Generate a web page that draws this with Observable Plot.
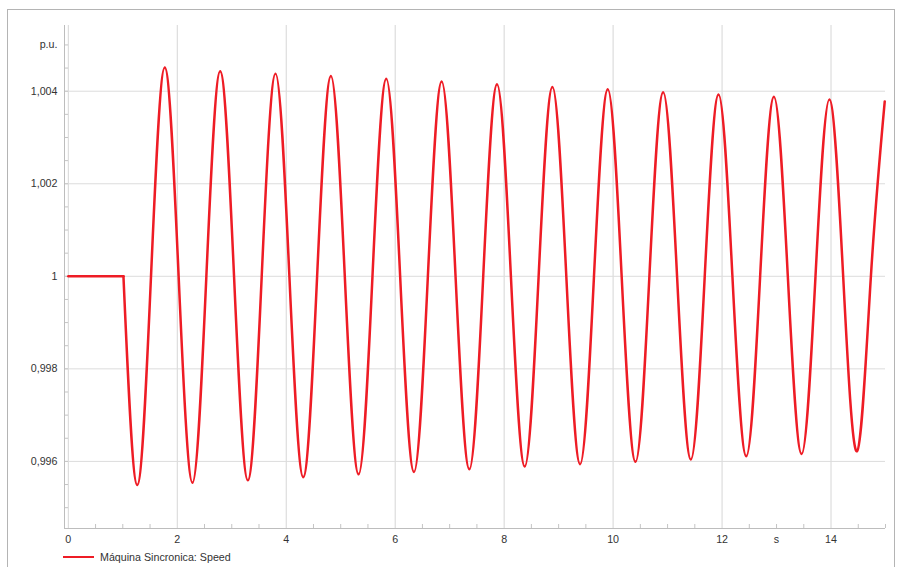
<!DOCTYPE html>
<html>
<head>
<meta charset="utf-8">
<script src="https://cdn.jsdelivr.net/npm/d3@7"></script>
<script src="https://cdn.jsdelivr.net/npm/@observablehq/plot@0.6"></script>
<style>
  body { margin: 0; background: #fff; font-family: "Liberation Sans", Arial, sans-serif; }
  #wrap { position: relative; width: 898px; height: 567px; overflow: hidden; background: #fff; }
  #frame { position: absolute; left: 7px; top: 9px; width: 888px; height: 600px; border: 1px solid #b4b4b4; box-sizing: border-box; }
  #chart { position: absolute; left: 0; top: 0; }
  #legend { position: absolute; left: 63px; top: 549px; height: 16px; display: flex; align-items: center; font-size: 10.7px; color: #333; }
  #legend .sw { width: 31px; height: 2.5px; background: #ee1c25; margin-right: 6px; }
</style>
</head>
<body>
<div id="wrap">
  <div id="frame"></div>
  <div id="chart"></div>
  <div id="legend"><span class="sw"></span><span id="legtext"></span></div>
</div>
<script>
// ---- data ----
const seriesName = "Máquina Sincronica: Speed";
const flatT = [0, 1.012];
const flatV = [1, 1];
const oscT = [1.012,
  1.265, 1.518, 1.771, 2.025,
  2.280, 2.534, 2.788, 3.042,
  3.296, 3.550, 3.804, 4.058,
  4.313, 4.567, 4.821, 5.075,
  5.329, 5.583, 5.837, 6.091,
  6.346, 6.600, 6.854, 7.108,
  7.362, 7.616, 7.870, 8.124,
  8.379, 8.633, 8.887, 9.141,
  9.395, 9.649, 9.903, 10.157,
  10.412, 10.666, 10.920, 11.174,
  11.428, 11.682, 11.936, 12.190,
  12.445, 12.699, 12.953, 13.207,
  13.461, 13.715, 13.969, 14.223,
  14.478, 14.732, 14.986];
const oscV = [1,
  0.99549, 1, 1.00451, 1,
  0.99554, 1, 1.00443, 1,
  0.99559, 1, 1.00438, 1,
  0.99566, 1, 1.00433, 1,
  0.99572, 1, 1.00427, 1,
  0.99577, 1, 1.00421, 1,
  0.99583, 1, 1.00415, 1,
  0.99589, 1, 1.00409, 1,
  0.99594, 1, 1.00404, 1,
  0.99599, 1, 1.00398, 1,
  0.99604, 1, 1.00393, 1,
  0.99611, 1, 1.00388, 1,
  0.99616, 1, 1.00382, 1,
  0.99622, 1, 1.00378];
const xDomain = [-0.07, 15];
const yDomain = [0.99455, 1.00542];
const yMajor = [0.996, 0.998, 1, 1.002, 1.004];
const yLabelTicks = [0.996, 0.998, 1, 1.002, 1.004, 1.005];
const yLabels = ["0,996", "0,998", "1", "1,002", "1,004", "p.u."];
const yMinor = [0.995, 0.9955, 0.996, 0.9965, 0.997, 0.9975, 0.998, 0.9985, 0.999, 0.9995, 1,
  1.0005, 1.001, 1.0015, 1.002, 1.0025, 1.003, 1.0035, 1.004, 1.0045, 1.005];
const xMajor = [0, 2, 4, 6, 8, 10, 12, 14];
const xLabelTicks = [0, 2, 4, 6, 8, 10, 12, 13, 14];
const xLabels = ["0", "2", "4", "6", "8", "10", "12", "s", "14"];
const xMinor = [0.5, 1, 1.5, 2.5, 3, 3.5, 4.5, 5, 5.5, 6.5, 7, 7.5, 8.5, 9, 9.5, 10.5, 11, 11.5,
  12.5, 13, 13.5, 14.5, 15];

// ---- chart ----
const rowsFlat = flatT.map((t, i) => ({t, v: flatV[i]}));
const rowsOsc = oscT.map((t, i) => ({t, v: oscV[i]}));
const yLab = new Map(yLabelTicks.map((d, i) => [d, yLabels[i]]));
const xLab = new Map(xLabelTicks.map((d, i) => [d, xLabels[i]]));
const W = 898, H = 545, mL = 64, mR = 13, mT = 25, mB = 17;
const innerW = W - mL - mR, innerH = H - mT - mB;
const red = "#ee1c25";

const chart = Plot.plot({
  width: W, height: H,
  marginLeft: mL, marginRight: mR, marginTop: mT, marginBottom: mB,
  style: {fontFamily: '"Liberation Sans", Arial, sans-serif', fontSize: "10.7px", color: "#333", background: "transparent", overflow: "visible"},
  x: {domain: xDomain},
  y: {domain: yDomain},
  marks: [
    Plot.gridX(xMajor, {stroke: "#d6d6d6", strokeOpacity: 1}),
    Plot.gridY(yMajor, {stroke: "#dcdcdc", strokeOpacity: 1}),
    Plot.tickY(yMinor, {stroke: "#c4c4c4", insetRight: innerW - 4}),
    Plot.tickX(xMinor, {stroke: "#c4c4c4", insetTop: innerH - 4}),
    Plot.ruleX([xDomain[0]], {stroke: "#bdbdbd"}),
    Plot.ruleY([yDomain[0]], {stroke: "#bdbdbd"}),
    Plot.axisY(yLabelTicks, {tickSize: 0, tickPadding: 7, tickFormat: d => yLab.get(d), label: null}),
    Plot.axisX(xLabelTicks, {tickSize: 0, tickPadding: 7, tickFormat: d => xLab.get(d), label: null}),
    Plot.line(rowsFlat, {x: "t", y: "v", stroke: red, strokeWidth: 2.5, strokeLinejoin: "round"}),
    Plot.line(rowsOsc, {x: "t", y: "v", stroke: red, strokeWidth: 2.5, curve: "natural", strokeLinejoin: "round"})
  ]
});
document.getElementById("chart").appendChild(chart);
document.getElementById("legtext").textContent = seriesName;
</script>
</body>
</html>
